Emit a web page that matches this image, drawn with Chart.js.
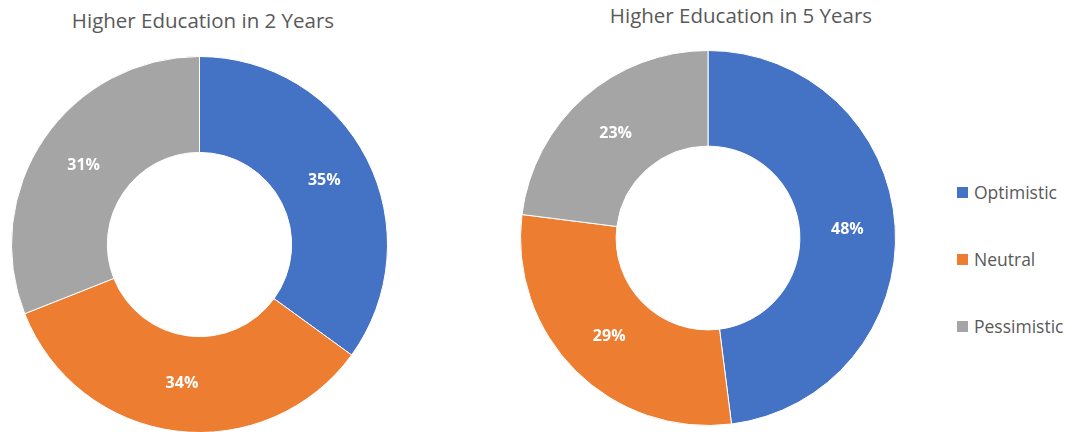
<!DOCTYPE html>
<html>
<head>
<meta charset="utf-8">
<script src="https://cdn.jsdelivr.net/npm/chart.js@4/dist/chart.umd.min.js"></script>
<style>
  body { margin: 0; background: #fff; width: 1078px; height: 432px; position: relative; overflow: hidden; font-family: "Open Sans", sans-serif; }
  .title { position: absolute; color: #595959; font-size: 20.5px; white-space: nowrap; transform: translateX(-50%); }
  .box { position: absolute; }
  #legend { position: absolute; left: 957px; top: 178px; }
  .item { display: flex; align-items: center; height: 28px; margin-bottom: 39px; color: #595959; font-size: 17.5px; }
  .swatch { width: 11px; height: 11px; margin-right: 6px; }
</style>
</head>
<body>
<div class="title" id="t1" style="left:203px; top:6px;"></div>
<div class="title" id="t2" style="left:741px; top:1px;"></div>
<div class="box" style="left:11px; top:56px; width:377px; height:377px;"><canvas id="c1"></canvas></div>
<div class="box" style="left:520px; top:50px; width:376px; height:376px;"><canvas id="c2"></canvas></div>
<div id="legend"></div>
<script>
const categories = ['Optimistic', 'Neutral', 'Pessimistic'];
const twoYears = [35, 34, 31];
const fiveYears = [48, 29, 23];
const titles = ['Higher Education in 2 Years', 'Higher Education in 5 Years'];
const colors = ['#4472C4', '#ED7D31', '#A5A5A5'];

document.getElementById('t1').textContent = titles[0];
document.getElementById('t2').textContent = titles[1];

// percent labels in the middle of each ring segment
const sliceLabels = {
  id: 'sliceLabels',
  afterDatasetsDraw(chart) {
    const ctx = chart.ctx;
    const ds = chart.data.datasets[0];
    chart.getDatasetMeta(0).data.forEach((arc, i) => {
      const pos = arc.tooltipPosition();
      ctx.save();
      ctx.fillStyle = '#fff';
      ctx.font = 'bold 16px "Open Sans", sans-serif';
      ctx.textAlign = 'center';
      ctx.textBaseline = 'middle';
      ctx.fillText(ds.data[i] + '%', pos.x, pos.y);
      ctx.restore();
    });
  }
};

const makeDonut = (id, values) => new Chart(document.getElementById(id), {
  type: 'doughnut',
  plugins: [sliceLabels],
  data: {
    labels: categories,
    datasets: [{
      data: values,
      backgroundColor: colors,
      borderColor: '#fff',
      borderWidth: 1,
      hoverOffset: 0
    }]
  },
  options: {
    responsive: true,
    maintainAspectRatio: false,
    animation: false,
    cutout: '49%',
    plugins: { legend: { display: false }, tooltip: { enabled: false } }
  }
});

makeDonut('c1', twoYears);
makeDonut('c2', fiveYears);

const legend = document.getElementById('legend');
categories.forEach((name, i) => {
  const item = document.createElement('div');
  item.className = 'item';
  item.innerHTML = `<span class="swatch" style="background:${colors[i]}"></span>${name}`;
  legend.appendChild(item);
});
</script>
</body>
</html>
